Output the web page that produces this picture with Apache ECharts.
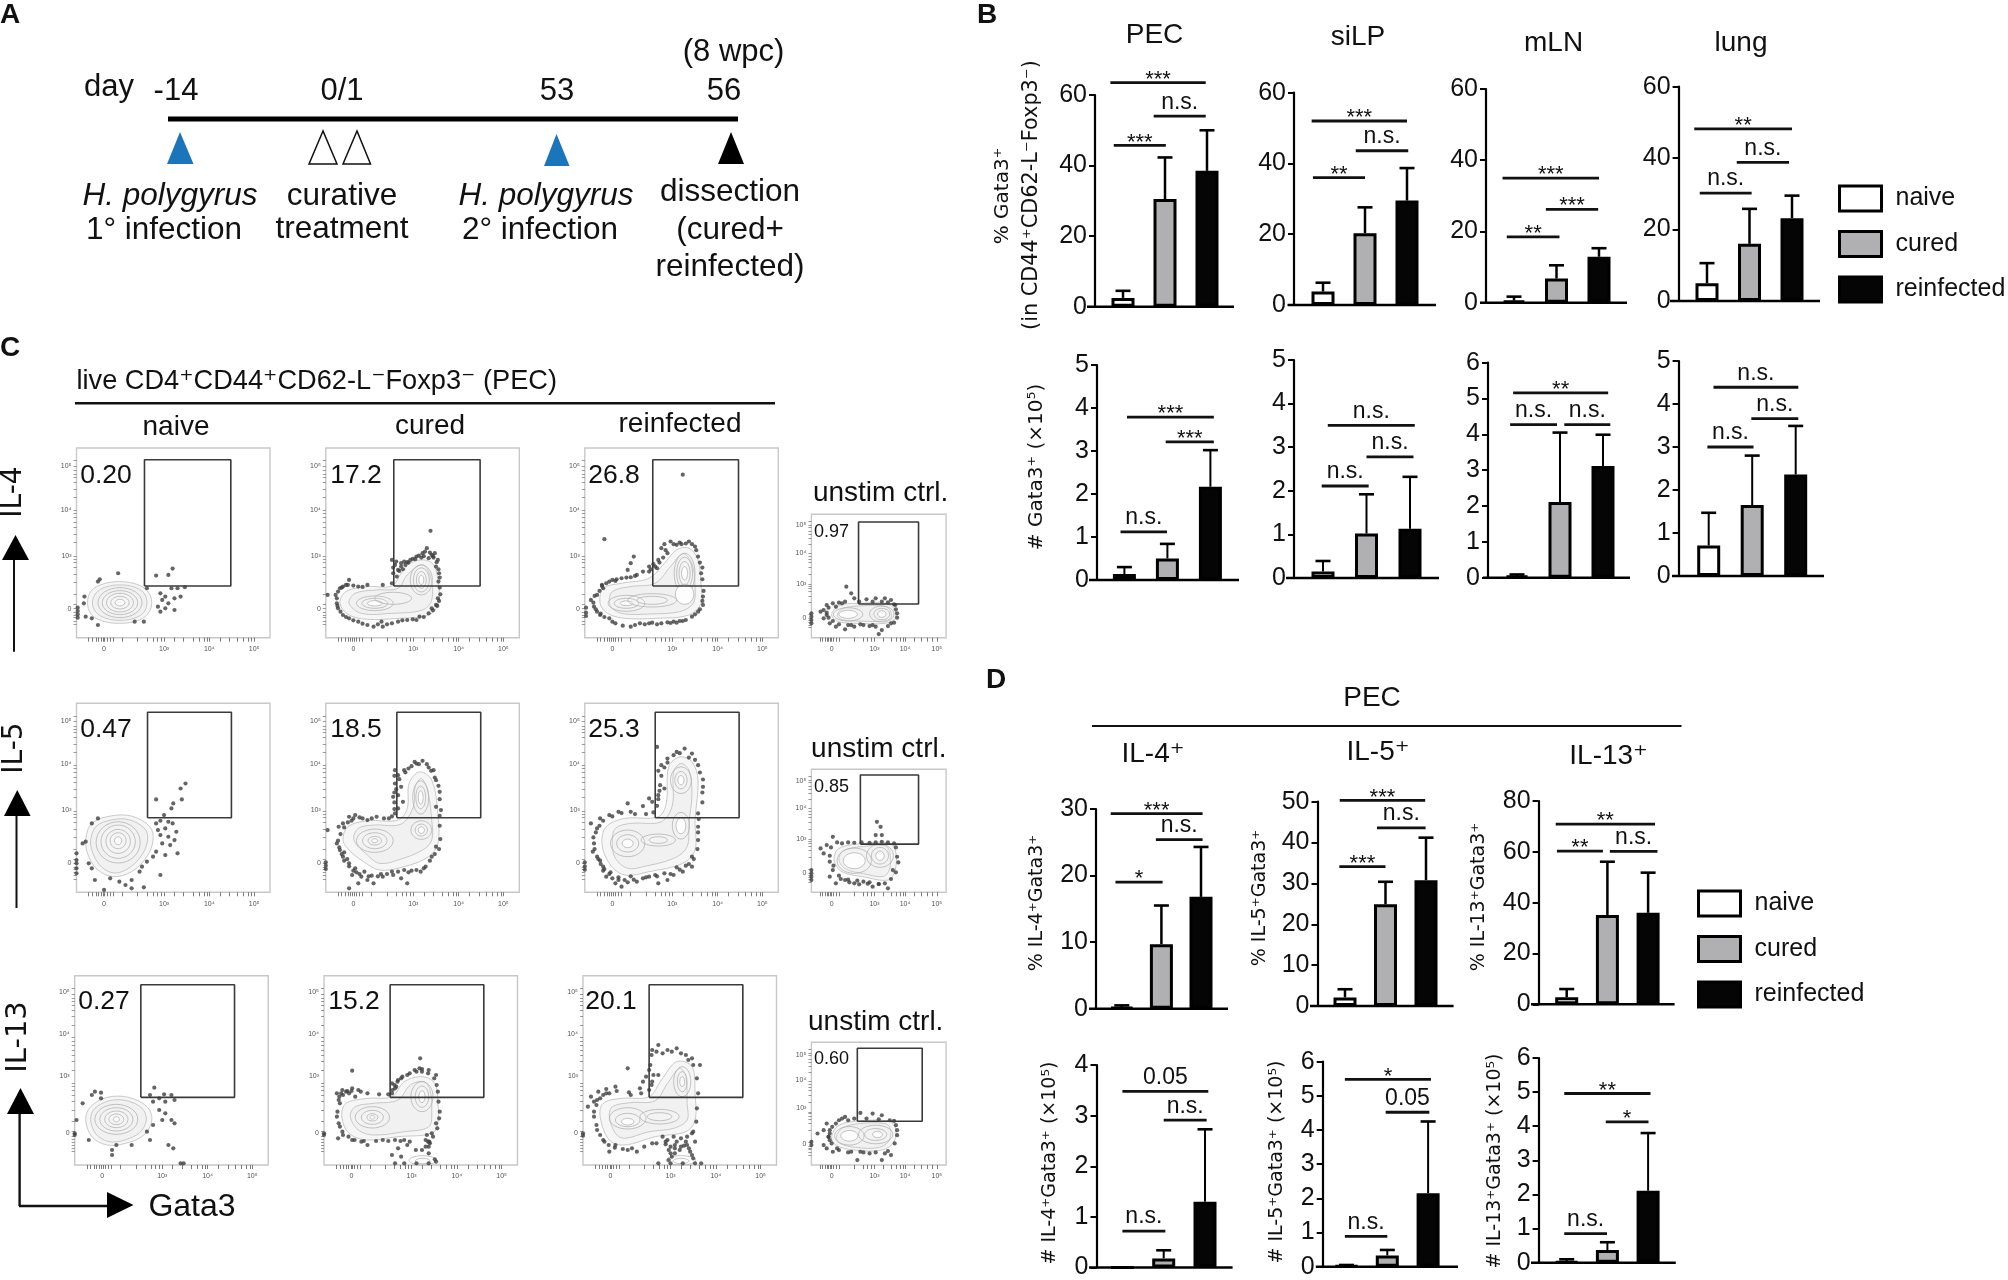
<!DOCTYPE html>
<html><head><meta charset="utf-8"><style>html,body{margin:0;padding:0;background:#fff}#c{width:2008px;height:1280px}</style>
<script src="https://cdn.jsdelivr.net/npm/echarts@6/dist/echarts.min.js"></script></head>
<body><div id="c"></div>
<script>
// ===== bar data =====
const groups = ['naive','cured','reinfected'];
const pecPct=[2.5,30.5,38.5], pecPctErr=[4.5,42.3,50];
const silpPct=[3.8,20.3,29.5], silpPctErr=[6.3,27.6,38.7];
const mlnPct=[0.6,6.8,12.9], mlnPctErr=[1.7,10.5,15.3];
const lungPct=[5,16,23.2], lungPctErr=[10.6,25.8,29.5];
const pecNum=[0.14,0.5,2.17], pecNumErr=[0.3,0.84,3.02];
const silpNum=[0.15,1.02,1.13], silpNumErr=[0.39,1.92,2.32];
const mlnNum=[0.05,2.11,3.12], mlnNumErr=[0.09,4.05,3.99];
const lungNum=[0.71,1.65,2.36], lungNumErr=[1.47,2.8,3.49];
const il4Pct=[0.2,9.7,16.8], il4PctErr=[0.5,15.5,24.3];
const il5Pct=[2.1,24.9,30.8], il5PctErr=[4.1,30.4,41.2];
const il13Pct=[2.75,35.1,36], il13PctErr=[6,56.1,51.8];
const il4Num=[0,0.18,1.3], il4NumErr=[0,0.34,2.73];
const il5Num=[0.02,0.33,2.15], il5NumErr=[0.05,0.49,4.25];
const il13Num=[0.03,0.37,2.11], il13NumErr=[0.1,0.6,3.8];
// significance brackets: from bar, to bar, height, text
const pecPctSig=[[-0.30,1.97,63.5,'***'],[0.73,1.97,54,'n.s.'],[-0.22,1.02,45.7,'***']];
const silpPctSig=[[-0.27,2.0,52,'***'],[0.78,2.03,43.6,'n.s.'],[-0.24,1.0,36,'**']];
const mlnPctSig=[[-0.27,2.0,35,'***'],[0.75,1.98,26.2,'***'],[-0.17,1.07,18.5,'**']];
const lungPctSig=[[-0.3,2.0,48.2,'**'],[0.7,1.93,38.8,'n.s.'],[-0.17,1.05,30.2,'n.s.']];
const pecNumSig=[[0.06,2.08,3.79,'***'],[0.96,2.08,3.21,'***'],[-0.09,0.99,1.12,'n.s.']];
const silpNumSig=[[0.11,2.11,3.5,'n.s.'],[1.0,2.08,2.78,'n.s.'],[-0.03,1.05,2.11,'n.s.']];
const mlnNumSig=[[-0.09,2.12,5.16,'**'],[-0.16,0.93,4.27,'n.s.'],[1.1,2.17,4.27,'n.s.']];
const lungNumSig=[[0.11,2.06,4.39,'n.s.'],[0.98,2.06,3.66,'n.s.'],[-0.03,1.03,3.0,'n.s.']];
const il4PctSig=[[-0.28,2.04,29.3,'***'],[0.86,2.04,25.4,'n.s.'],[-0.16,1.03,19,'*']];
const il5PctSig=[[-0.13,1.98,50.3,'***'],[0.79,1.99,43.6,'n.s.'],[-0.14,1.0,34.1,'***']];
const il13PctSig=[[-0.27,2.17,70.9,'**'],[-0.24,0.89,60.3,'**'],[1.06,2.23,60.2,'n.s.']];
const il4NumSig=[[0,2.08,3.48,'0.05'],[1.0,2.04,2.91,'n.s.'],[0,1.04,0.72,'n.s.']];
const il5NumSig=[[-0.04,2.07,5.48,'*'],[0.96,2.03,4.52,'0.05'],[-0.04,1.0,0.89,'n.s.']];
const il13NumSig=[[-0.06,2.06,4.96,'**'],[0.96,2.01,4.13,'*'],[-0.06,0.99,0.85,'n.s.']];

// ===== flow plots: channels =====
const xTickMain=[20,26,32,36,40,44,46,50,55,60,75,100,115,125,132,138,143,160,175,190,200,208,213,217,235,250,262,272,280,286,290];
const xLabelMain=[45,143,217,290];
const xTickCtrl=[14,18,22,26,28,30,33,36,40,45,70,85,92,98,103,118,130,138,145,150,153,168,180,190,197,205];
const xLabelCtrl=[33,103,153,205];
const xLabelText=['0','10³','10⁴','10⁵'];
const yTickMain=[40,50,60,68,76,87,100,130,165,190,210,225,235,245,285,310,330,345,360,372,383,420,445,465,480,490,500,513,530];
const yTickCtrl=[30,38,46,52,58,70,105,125,138,148,155,160,190,210,225,235,245,253,280,298,310,320,330,338,350];
const yLabelR1=[87,245,383,513], yLabelR2=[87,247,384,515], yLabelR3=[95,267,393,518];
const yLabelC1=[58,160,253,338], yLabelC2=[59,160,252,335], yLabelC3=[63,172,255,332];

const f11={pct:'0.20',gate:[111,155,252,533],
 outer:[18,105,24,140,42,160,70,168,98,160,116,140,123,105,116,70,98,50,70,43,42,50,24,70],
 mid:[26,105,32,134,48,152,71,158,94,152,110,134,115,105,110,76,94,58,71,52,48,58,32,76],
 rings:[[71,105,36,45],[71,105,29,36],[71,105,22,28],[71,105,15,19],[71,105,8,10]],
 dots:[68,193,38,175,35,168,130,186,150,188,157,207,137,133,145,123,155,148,165,148,177,151,140,113,150,103,133,93,160,118,170,123,145,88,160,83,137,78,115,148,13,123,12,103,2,90,2,80,2,70,2,60,15,63,25,58,35,38,110,48,95,48]};
const f12={pct:'17.2',gate:[111,155,252,533],
 outer:[23,103,33,138,68,153,108,155,123,193,138,223,160,233,176,218,183,173,184,103,168,68,118,58,68,55,38,68],
 mid:[38,103,48,133,83,143,118,148,133,188,158,218,171,183,173,113,158,83,108,73,58,73],
 rings:[[80,103,30,22],[80,103,21,15],[80,103,12,8],[110,118,30,18],[156,173,18,45],[156,173,13,36],[156,173,8,25],[156,173,4,14]],
 dots:[108,233,113,218,123,213,118,203,128,228,138,233,148,243,158,253,165,268,171,320,178,253,183,233,180,213,185,193,184,168,110,193,116,183,108,163,93,158,68,158,53,153,38,173,23,148,28,153,33,158,16,128,3,128,18,103,20,88,28,68,38,58,53,48,68,38,78,33,93,33,118,48,133,53,153,63,168,73,180,98,183,118,148,53,108,43,91,48,173,88,168,238,173,248,123,223,133,226,176,240,160,244,
  110,210,115,228,120,200,126,205,130,218,135,225,142,236,146,235,152,246,156,240,162,258,170,255,175,244,181,226,184,205,186,180,186,150,187,130,185,110,182,95,175,82,160,62,142,55,125,52,100,40,85,40,60,42,45,52,33,62,24,78,19,95,18,118,20,138,26,150,36,158,45,156,60,152]};
const f13={pct:'26.8',gate:[111,155,251,533],
 outer:[25,103,30,148,60,163,105,178,130,223,150,263,170,268,185,233,190,153,190,103,170,68,115,58,65,58,37,73],
 mid:[40,103,45,138,75,153,115,163,140,213,160,251,175,223,180,153,177,103,155,78,105,71,65,71,48,83],
 rings:[[68,103,30,24],[68,103,20,15],[68,103,10,7],[110,112,40,20],[110,112,25,12],[163,193,17,60],[163,193,13,48],[163,193,9,35],[163,193,5,20],[163,130,15,30]],
 dots:[160,488,32,295,80,243,75,223,70,203,105,213,95,198,85,188,75,181,60,178,45,173,35,163,30,148,20,128,10,113,15,93,20,78,25,68,40,58,50,43,75,33,90,43,105,43,125,43,145,48,165,53,175,63,185,78,193,98,193,123,190,193,185,243,180,273,170,288,140,288,125,268,135,253,120,233,115,213,105,198,150,278,2,90,2,75,2,65,158,280,130,280,28,155,50,170,110,45,135,46,155,50,
  108,205,112,220,118,208,122,225,128,240,132,262,145,280,155,285,165,282,175,280,182,262,188,225,192,210,192,175,194,140,192,110,188,85,180,70,160,50,150,45,140,44,118,40,98,40,82,38,62,36,45,48,32,62,26,72,18,85,14,105,16,125,24,140,28,158,40,168,52,175,68,180,82,185]};
const f14={pct:'0.97',gate:[77,101,175,347],
 outer:[33,68,45,96,75,103,120,103,135,88,137,58,120,43,75,43,45,48],
 mid:[42,68,52,88,78,95,116,96,128,84,130,60,116,50,78,50,50,54],
 rings:[[60,70,24,20],[60,70,15,12],[115,71,20,24],[115,71,13,17],[115,71,7,10]],
 dots:[57,153,65,133,70,118,90,115,105,118,120,118,130,113,25,98,20,83,25,68,20,58,30,43,40,33,55,25,70,33,95,35,115,23,110,11,130,43,140,73,137,98,15,78,0,73,0,63,0,53,0,43,50,103,40,93,35,103,80,40,100,38,60,38,
  45,105,55,108,78,108,100,108,115,108,125,106,135,100,138,85,140,60,135,45,125,35,105,33,85,38,65,38,45,40,35,50,28,60,25,75,28,90]};
const f21={pct:'0.47',gate:[116,224,253,541],
 outer:[15,157,25,207,55,229,90,229,120,197,125,157,115,107,90,62,60,47,35,67,20,107],
 mid:[23,153,32,198,58,218,86,218,112,190,116,155,106,110,85,72,62,58,41,76,28,112],
 rings:[[68,150,36,62],[68,152,28,50],[68,153,20,36],[68,155,13,24],[68,155,6,12]],
 dots:[178,327,170,312,172,279,158,267,130,279,155,252,143,232,137,215,130,207,150,212,157,207,145,192,133,187,163,182,137,172,150,167,160,157,140,147,153,142,130,122,165,117,145,112,125,107,115,92,107,77,103,62,137,52,90,37,80,22,70,32,55,42,45,7,30,37,110,15,90,12,15,152,10,147,25,207,35,222,20,87,25,72,0,117,0,97,0,87,0,72,0,57]};
const f22={pct:'18.5',gate:[116,224,253,541],
 outer:[28,157,36,197,68,215,118,217,133,252,136,327,153,362,173,337,183,237,183,147,168,107,128,77,88,67,58,97,38,127],
 mid:[46,157,53,192,78,202,123,205,143,257,146,317,156,342,166,307,173,217,173,157,158,127,118,97,88,87,68,112],
 rings:[[80,155,30,35],[80,155,20,24],[80,155,11,13],[80,155,5,6],[156,187,17,28],[156,187,10,18],[156,187,5,10],[155,285,13,50],[155,285,8,34],[155,285,4,20]],
 dots:[113,367,118,352,128,367,140,379,158,395,168,375,176,367,148,387,180,337,186,302,180,257,188,247,113,327,123,317,110,287,118,292,126,272,118,252,113,237,103,222,83,227,68,217,48,232,38,227,28,207,21,197,3,187,18,147,23,127,28,107,38,87,48,72,43,52,58,47,68,37,78,27,38,12,93,47,108,62,128,67,148,67,163,77,173,107,180,137,133,27,123,42,53,27,63,62,50,60,75,50,90,55,110,52,135,60,155,62,30,120,35,100,42,215,55,225,0,90,0,80,0,70,
  112,350,120,340,130,360,135,372,145,392,152,385,165,385,172,365,178,345,184,320,186,280,186,230,186,200,187,160,185,130,178,115,170,95,160,72,140,65,118,62,100,55,85,48,70,48,55,55,45,65,38,78,30,95,26,115,22,135,20,155,24,175,30,195,36,210,45,222,60,222,75,222,95,222,108,228,112,250,112,270,112,300,115,310]};
const f23={pct:'25.3',gate:[115,224,252,541],
 outer:[28,147,35,197,65,222,120,227,133,267,137,377,155,407,175,392,185,337,180,217,180,127,160,87,105,62,65,52,40,87],
 mid:[45,147,50,192,75,207,125,212,143,262,145,362,157,387,170,367,175,297,170,207,167,137,145,102,95,77,70,72,50,102],
 rings:[[70,147,28,40],[70,147,18,26],[70,147,9,13],[120,157,28,18],[120,157,15,10],[157,200,14,40],[157,200,8,24],[157,337,17,40],[157,337,10,26],[157,337,5,14]],
 dots:[118,437,150,422,163,432,175,417,135,402,125,382,185,382,193,339,193,317,123,322,130,312,120,292,105,282,70,267,110,272,95,259,75,242,55,242,40,232,25,222,10,207,20,192,15,147,13,122,20,107,30,77,35,47,50,27,65,37,85,32,105,47,120,27,135,37,145,52,160,62,175,77,175,107,55,37,45,42,60,17,95,42,130,57,185,157,185,197,185,237,30,65,40,55,75,48,115,52,150,75,165,80,25,95,0,90,0,78,0,68,
  120,365,125,350,130,375,135,390,145,412,155,418,170,405,180,398,188,360,192,300,192,270,186,220,185,180,184,130,178,100,170,85,155,68,140,55,118,48,100,45,80,38,70,30,55,45,42,60,32,70,26,85,22,100,16,130,14,165,18,180,24,200,30,215,45,228,60,238,82,235,100,235,112,240,118,260,120,280,122,305]};
const f24={pct:'0.85',gate:[80,145,175,353],
 outer:[37,97,45,132,85,147,125,149,137,127,137,67,125,37,85,47,50,62],
 mid:[45,97,52,125,85,138,120,140,128,122,128,72,118,48,85,56,56,70],
 rings:[[70,95,28,38],[70,95,18,24],[112,110,22,35],[112,110,14,25],[112,110,7,14]],
 dots:[107,212,113,197,105,172,115,172,35,167,25,142,20,117,30,92,35,67,30,47,40,27,55,37,70,27,85,32,100,17,120,27,125,12,50,147,70,149,95,149,115,152,135,147,140,107,133,67,15,132,0,67,0,57,0,47,0,37,62,30,78,24,92,26,110,25,48,40,
  42,150,60,150,82,150,105,150,125,150,138,135,142,90,138,60,130,40,110,25,95,30,75,35,60,38,45,50,36,80,30,110,32,135]};
const f31={pct:'0.27',gate:[108,203,261,541],
 outer:[18,137,26,175,53,203,88,203,118,175,126,135,113,90,83,65,53,60,28,85],
 mid:[26,137,33,170,57,193,85,193,110,170,117,135,106,97,80,74,56,70,35,92],
 rings:[[68,137,35,45],[68,137,27,35],[68,137,19,25],[68,137,12,16],[68,137,5,8]],
 dots:[33,220,43,217,28,210,43,200,13,185,130,232,123,210,146,212,158,210,163,195,138,200,148,190,128,190,138,165,148,155,158,135,143,135,163,125,128,120,118,100,123,75,153,60,161,50,68,60,93,60,61,45,61,30,23,75,0,95,0,90,173,5,178,5,3,135]};
const f32={pct:'15.2',gate:[108,203,261,541],
 outer:[29,145,36,185,71,200,111,205,131,250,161,265,181,245,186,185,186,125,176,95,121,85,71,75,41,95],
 mid:[43,145,51,175,81,185,121,195,141,240,163,250,173,225,176,165,171,115,131,100,81,90,56,105],
 rings:[[79,143,28,32],[79,143,18,21],[79,143,9,11],[79,143,4,5],[160,205,18,45],[160,205,11,32],[160,205,5,18],[161,14,22,14],[161,12,12,8]],
 dots:[157,320,46,283,156,290,171,285,183,270,184,240,151,280,136,270,121,255,111,245,126,260,116,230,111,215,71,215,56,225,46,230,36,220,21,215,31,210,41,215,51,205,26,185,21,145,26,115,31,90,23,80,46,75,61,70,71,60,96,75,116,75,131,75,136,60,121,50,111,30,126,25,166,75,171,55,176,95,183,125,189,160,171,35,181,17,131,5,116,5,151,5,171,5,183,10,30,225,38,222,25,205,160,288,0,95,0,90,168,90,170,70,173,65,
  115,240,120,250,128,265,140,275,148,285,160,280,170,275,180,260,186,220,187,190,188,140,185,110,178,85,172,70,166,55,160,45,150,45,140,70,125,72,105,72,85,72,65,72,50,75,40,85,30,100,24,125,22,160,24,195,28,215,45,222,60,220,90,212,105,212,112,225,118,235]};
const f33={pct:'20.1',gate:[108,203,261,541],
 outer:[28,145,33,185,63,200,108,205,128,255,153,310,178,295,183,215,183,135,168,100,118,85,68,60,43,75],
 mid:[43,145,48,175,78,187,118,193,138,245,158,290,168,265,170,185,170,135,148,110,108,100,68,80,53,95],
 rings:[[73,140,30,32],[73,135,20,20],[73,130,10,10],[125,145,32,22],[125,145,20,12],[162,250,14,45],[162,250,8,30],[162,250,4,15],[160,14,24,14],[160,12,13,8]],
 dots:[123,360,113,345,138,345,153,350,168,330,178,320,191,300,73,290,108,285,103,265,123,270,113,250,93,230,98,250,53,235,33,210,13,205,23,195,8,175,43,215,78,210,18,145,23,105,33,75,43,40,53,60,73,45,88,40,113,65,138,75,153,70,178,95,183,70,143,55,158,45,173,50,143,35,178,30,123,5,143,5,163,5,183,5,193,5,168,70,150,60,135,62,165,58,130,85,0,95,0,88,25,220,38,228,18,190,
  112,330,120,340,130,335,145,340,160,335,172,315,180,300,186,260,188,215,186,170,185,130,180,100,170,85,160,80,148,85,135,70,120,65,100,55,80,50,65,48,52,52,42,60,35,70,28,90,22,120,18,160,22,180,28,200,38,215,55,222,75,218,95,215,108,225,112,240,115,270,110,300,140,45,150,50,160,55,170,60,145,25,150,35,175,40,180,20,140,15]};
const f34={pct:'0.60',gate:[75,132,181,352],
 outer:[33,85,45,120,80,133,125,133,137,115,135,70,115,45,70,45,40,60],
 mid:[41,85,51,112,80,125,120,125,129,110,127,74,111,53,72,53,46,66],
 rings:[[62,88,24,28],[62,88,14,16],[105,92,28,28],[105,92,18,18],[108,92,8,10]],
 dots:[80,157,100,155,115,150,55,145,45,135,25,125,20,105,30,75,20,60,25,50,45,45,65,40,80,40,95,35,120,35,115,15,130,30,140,105,135,133,10,95,0,70,0,60,75,15,35,40,30,95,28,85,60,135,34,115,
  40,125,50,140,70,140,90,140,110,138,128,135,138,120,140,90,136,65,125,42,105,38,85,38,60,38,42,50,33,65,28,85,30,105]};

// ===== layout =====
const W=2008,H=1280,SANS='"Liberation Sans",Arial,"DejaVu Sans",sans-serif',WIDE='"DejaVu Sans",sans-serif';
const fills=['#ffffff','#b0b0b3','#050505'];
const barPanels=[
 [pecPct,pecPctErr,pecPctSig,60,20,1123,42,1095,1087,1234,95,306.7,2.5],
 [silpPct,silpPctErr,silpPctSig,60,20,1323,42,1294,1287.5,1436,92.7,305,2.5],
 [mlnPct,mlnPctErr,mlnPctSig,60,20,1514,42.5,1486,1480,1627,89,302.7,2.5],
 [lungPct,lungPctErr,lungPctSig,60,20,1707,42.5,1678.6,1670,1820,86.7,301,2.5],
 [pecNum,pecNumErr,pecNumSig,5,1,1124.4,43,1097,1089,1239,365,580,2],
 [silpNum,silpNumErr,silpNumSig,5,1,1323,43.5,1294,1286,1439,360,578,2],
 [mlnNum,mlnNumErr,mlnNumSig,6,1,1517,43,1488,1483,1630,362.7,577.7,2],
 [lungNum,lungNumErr,lungNumSig,5,1,1708.7,43.5,1678.6,1672,1824,361,576,2],
 [il4Pct,il4PctErr,il4PctSig,30,10,1121.8,39.6,1096,1089,1228,809,1008.7,2.5],
 [il5Pct,il5PctErr,il5PctSig,50,10,1345,40.5,1317.5,1310,1453.6,801.7,1006,2.5],
 [il13Pct,il13PctErr,il13PctSig,80,20,1566.7,40.7,1538.6,1531,1674.6,801,1004.3,2.5],
 [il4Num,il4NumErr,il4NumSig,4,1,1122.4,41.3,1096.5,1089,1232.6,1065,1270,2],
 [il5Num,il5NumErr,il5NumSig,6,1,1346.5,40.8,1322.7,1315.8,1458,1061.7,1266.7,2],
 [il13Num,il13NumErr,il13NumSig,6,1,1566.7,40.7,1538.6,1531,1675.8,1058,1262.7,2],
];
const flowPanels=[
 [f11,76.5,448,193.5,189.7,0,yLabelR1],[f12,325.8,448,193.5,189.7,0,yLabelR1],[f13,584.8,448,193.5,189.7,0,yLabelR1],[f14,811.4,514.3,134.7,123.4,1,yLabelC1],
 [f21,76.5,703.3,193.5,189,0,yLabelR2],[f22,325.8,703.3,193.5,189,0,yLabelR2],[f23,584.8,703.3,193.5,189,0,yLabelR2],[f24,811.4,769.3,134.7,123,1,yLabelC2],
 [f31,74.7,975.7,193.5,189.3,0,yLabelR3],[f32,324,975.7,193.5,189.3,0,yLabelR3],[f33,583,975.7,193.5,189.3,0,yLabelR3],[f34,811.4,1042.3,134.7,122.7,1,yLabelC3],
];
const flowPctPos=[[106,476],[356,476],[614,476],[831.6,531.7],[106,730],[356,730],[614,730],[831.6,786.7],[104,1002],[354,1002],[611,1002],[831.6,1059]];
const pairs=a=>{const r=[];for(let i=0;i<a.length;i+=2)r.push([a[i],a[i+1]]);return r;};

const grid=[],xAxis=[],yAxis=[],series=[];
barPanels.forEach((p,i)=>{
 const [mean,err,sig,max,step,bar0,s,axisX,baseL,baseR,top,zero,ew]=p;
 const g=grid.length, left=bar0-s/2;
 grid.push({left,top,width:s*3,height:zero-top,containLabel:false});
 const cat=xAxis.length;
 xAxis.push({type:'category',gridIndex:g,data:groups,show:false});
 const val=xAxis.length;
 xAxis.push({type:'value',gridIndex:g,min:-0.5,max:2.5,show:false});
 const y=yAxis.length;
 yAxis.push({type:'value',gridIndex:g,min:0,max,interval:step,offset:left-axisX,splitLine:{show:false},
  axisLine:{show:true,onZero:false,lineStyle:{color:'#000',width:2.2}},axisTick:{show:true,length:6,lineStyle:{color:'#000',width:2}},
  axisLabel:{fontSize:25,color:'#111',fontFamily:SANS,margin:8}});
 groups.forEach((gname,k)=>series.push({type:'bar',name:gname,xAxisIndex:cat,yAxisIndex:y,stack:'p'+i,barWidth:23,silent:true,
  data:mean.map((v,j)=>j===k?v:null),itemStyle:{color:fills[k],borderColor:'#000',borderWidth:3},z:4}));
 series.push({type:'custom',xAxisIndex:cat,yAxisIndex:y,silent:true,z:3,data:err.map((e,j)=>[j,e,mean[j]]),encode:{x:0,y:1},
  renderItem:(pr,api)=>{const a=api.coord([api.value(0),api.value(1)]),b=api.coord([api.value(0),api.value(2)]);
   const st={stroke:'#000',lineWidth:ew};
   return {type:'group',children:[{type:'line',shape:{x1:a[0],y1:a[1],x2:b[0],y2:b[1]},style:st},
    {type:'line',shape:{x1:a[0]-7.5,y1:a[1],x2:a[0]+7.5,y2:a[1]},style:{stroke:'#000',lineWidth:2.6}}]};}});
 series.push({type:'custom',xAxisIndex:val,yAxisIndex:y,silent:true,z:5,data:[[0,0]],encode:{x:0,y:1},
  renderItem:(pr,api)=>{const c=api.coord([0,0]);return {type:'line',shape:{x1:baseL,y1:c[1],x2:baseR,y2:c[1]},style:{stroke:'#000',lineWidth:2.5}};}});
 series.push({type:'custom',xAxisIndex:val,yAxisIndex:y,silent:true,z:5,data:sig.map(b=>[b[0],b[1],b[2]]),encode:{x:[0,1],y:2},
  renderItem:(pr,api)=>{const a=api.coord([api.value(0),api.value(2)]),b=api.coord([api.value(1),api.value(2)]),t=sig[pr.dataIndex][3];
   const star=t[0]==='*';const dy=star?3:14;
   return {type:'group',children:[{type:'line',shape:{x1:a[0],y1:a[1],x2:b[0],y2:b[1]},style:{stroke:'#111',lineWidth:2.8}},
    {type:'text',style:{text:t,x:(a[0]+b[0])/2,y:a[1]-dy,textAlign:'center',textVerticalAlign:'middle',fontSize:star?22:23,fontFamily:SANS,fill:'#111'}}]};}});
});
flowPanels.forEach(p=>{
 const [d,left,top,w,h,ctrl,yLabels]=p;
 const g=grid.length,x=xAxis.length,y=yAxis.length;
 grid.push({left,top,width:w,height:h,show:true,borderColor:'#c8c8c8',borderWidth:1.4,backgroundColor:'#fff'});
 const xl=ctrl?xLabelCtrl:xLabelMain;
 xAxis.push({type:'value',gridIndex:g,min:0,max:ctrl?220:316,splitLine:{show:false},axisLine:{show:false},
  axisTick:{show:true,length:4,customValues:ctrl?xTickCtrl:xTickMain,lineStyle:{color:'#444',width:0.7}},
  axisLabel:{customValues:xl,fontSize:7,color:'#555',margin:8,fontFamily:SANS,formatter:v=>xLabelText[xl.indexOf(v)]}});
 yAxis.push({type:'value',gridIndex:g,min:0,max:ctrl?370:568,splitLine:{show:false},axisLine:{show:false},
  axisTick:{show:true,length:3,customValues:ctrl?yTickCtrl:yTickMain,lineStyle:{color:'#555',width:0.6}},
  axisLabel:{customValues:yLabels,fontSize:7,color:'#555',margin:5,fontFamily:SANS,formatter:v=>xLabelText[yLabels.indexOf(v)]}});
 const outlineSeries=(o,fill)=>({type:'custom',xAxisIndex:x,yAxisIndex:y,silent:true,z:2,data:pairs(o),encode:{x:0,y:1},
  renderItem:(pr,api)=>{ if(pr.dataIndex!==0) return null;
   const pts=pairs(o).map(q=>api.coord(q));
   return {type:'polygon',shape:{points:pts,smooth:0.35},style:{fill,stroke:'#bdbdbd',lineWidth:0.8}};}});
 series.push(outlineSeries(d.outer,'#f6f6f6'));
 series.push(outlineSeries(d.mid,'#f1f1f1'));
 series.push({type:'custom',xAxisIndex:x,yAxisIndex:y,silent:true,z:2,data:d.rings,encode:{x:0,y:1},
  renderItem:(pr,api)=>{const c=api.coord([api.value(0),api.value(1)]),sz=api.size([api.value(2),api.value(3)]);
   const last=pr.dataIndex===d.rings.length-1||d.rings[pr.dataIndex+1][2]>api.value(2);
   return {type:'ellipse',shape:{cx:c[0],cy:c[1],rx:sz[0],ry:sz[1]},style:{fill:last?'#fdfdfd':'rgba(255,255,255,0.1)',stroke:'#ababab',lineWidth:0.7}};}});
 series.push({type:'scatter',xAxisIndex:x,yAxisIndex:y,data:pairs(d.dots),symbolSize:4.2,silent:true,clip:false,itemStyle:{color:'#3f3f3f'},z:3});
 const [x0,y0,x1,y1]=d.gate;
 series.push({type:'line',xAxisIndex:x,yAxisIndex:y,data:[[x0,y0],[x1,y0],[x1,y1],[x0,y1],[x0,y0]],showSymbol:false,silent:true,lineStyle:{color:'#3a3a3a',width:1.6},z:4});
});

// ===== text and schematic =====
const g=[];
const T=(text,x,y,size,o={})=>g.push({type:'text',x,y,rotation:o.rot||0,z:20,silent:true,style:{text,fontSize:size,fontFamily:o.fam||SANS,fontStyle:o.italic?'italic':'normal',fontWeight:o.bold?'bold':'normal',fill:o.fill||'#111',textAlign:o.align||'center',textVerticalAlign:'middle'}});
const L=(x1,y1,x2,y2,w,c='#111')=>g.push({type:'line',z:20,silent:true,shape:{x1,y1,x2,y2},style:{stroke:c,lineWidth:w}});
const P=(pts,fill,stroke,w=0)=>g.push({type:'polygon',z:20,silent:true,shape:{points:pts},style:{fill,stroke:stroke||fill,lineWidth:w}});
const UP=Math.PI/2;
T('A',10,15,28,{bold:true});T('B',987,15,28,{bold:true});T('C',10,348,28,{bold:true});T('D',996,680,28,{bold:true});
// A
T('day',109,87,31);T('-14',176,91,31);T('0/1',342,91,31);T('53',557,91,31);T('56',724,91,31);T('(8 wpc)',733.6,52,31);
L(168,119,738,119,5,'#000');
P([[180,132],[167,164],[193.5,164]],'#1b75bb');
P([[323,131],[309,164],[337,164]],'#fff','#111',1.5);
P([[357,131],[343,164],[370.5,164]],'#fff','#111',1.5);
P([[556.5,134],[544,166],[569.5,166]],'#1b75bb');
P([[731,132],[718,164],[744,164]],'#000');
T('H. polygyrus',170,196,31.5,{italic:true});T('1° infection',164,230,31.5);
T('curative',342,196,31.5);T('treatment',342,229,31.5);
T('H. polygyrus',546,196,31.5,{italic:true});T('2° infection',540,230,31.5);
T('dissection',730,192,31.5);T('(cured+',730,230,31.5);T('reinfected)',730,267,31.5);
// B titles
T('PEC',1154.5,35,28);T('siLP',1358,37,28);T('mLN',1553.6,43,28);T('lung',1741,43,28);
T('% Gata3⁺',1003,196,20,{rot:UP,fam:WIDE});T('(in CD44⁺CD62-L⁻Foxp3⁻)',1032,195,20.8,{rot:UP,fam:WIDE});
T('# Gata3⁺ (×10⁵)',1037,467,20,{rot:UP,fam:WIDE});
// D
T('PEC',1372,698,28);L(1092,726,1681.5,726,2.2);
T('IL-4⁺',1153,754,28);T('IL-5⁺',1378,752,28);T('IL-13⁺',1608.6,756,28);
T('% IL-4⁺Gata3⁺',1037.4,903,19,{rot:UP,fam:WIDE});T('% IL-5⁺Gata3⁺',1259.6,898,19,{rot:UP,fam:WIDE});T('% IL-13⁺Gata3⁺',1479,897,19,{rot:UP,fam:WIDE});
T('# IL-4⁺Gata3⁺ (×10⁵)',1050,1163,19,{rot:UP,fam:WIDE});T('# IL-5⁺Gata3⁺ (×10⁵)',1276.8,1162,19,{rot:UP,fam:WIDE});T('# IL-13⁺Gata3⁺ (×10⁵)',1495,1161,19,{rot:UP,fam:WIDE});
// C
T('live CD4⁺CD44⁺CD62-L⁻Foxp3⁻ (PEC)',76.5,382,27.2,{align:'left'});L(75,403.3,775,403.3,2.6);
T('naive',176,427,28);T('cured',430,426,28);T('reinfected',680,424,28);
T('unstim ctrl.',880.6,493,28);T('unstim ctrl.',878.8,749,28);T('unstim ctrl.',875.7,1022,28);
flowPanels.forEach((p,i)=>T(p[0].pct,flowPctPos[i][0],flowPctPos[i][1],p[5]?18:26.5));
T('IL-4',13.5,492,28,{rot:UP,fam:WIDE});T('IL-5',15,748,28,{rot:UP,fam:WIDE});T('IL-13',18.4,1037,29,{rot:UP,fam:WIDE});
L(14,651.7,14,555,2);P([[15.5,535],[2,560],[29,560]],'#000');
L(16.5,908,16.5,810,2);P([[17.3,790],[4,816],[30.6,816]],'#000');
L(19.6,1206,19.6,1108,2.4);P([[20.5,1088],[7,1114],[34,1114]],'#000');
L(19,1206,112,1206,2.4);P([[133.5,1205],[107,1192],[107,1218]],'#000');
T('Gata3',192,1207,32);

const legendCommon={orient:'vertical',data:groups,selectedMode:false,icon:'rect',itemWidth:42,itemHeight:25,itemGap:17.5,padding:0,align:'left',
 itemStyle:{borderColor:'#000',borderWidth:3},textStyle:{fontSize:25,color:'#111',fontFamily:SANS,padding:[0,0,0,9]}};
const chart=echarts.init(document.getElementById('c'),null,{renderer:'canvas',width:W,height:H});
chart.setOption({animation:false,backgroundColor:'#fff',textStyle:{fontFamily:SANS},grid,xAxis,yAxis,series,graphic:g,tooltip:{show:false},
 legend:[Object.assign({left:1838,top:184.5},legendCommon),Object.assign({left:1697,top:889.5},legendCommon)]});
</script></body></html>
